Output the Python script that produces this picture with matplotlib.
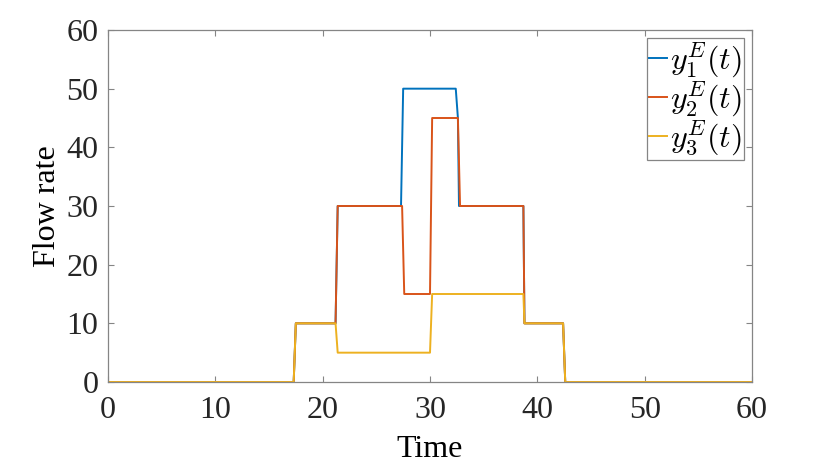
import matplotlib
matplotlib.use("Agg")
import matplotlib.pyplot as plt

# vertices of the three step-like flow profiles (time, flow rate)
t1 = [0, 17.3, 17.5, 21.2, 21.4, 27.3, 27.5, 32.4, 32.6, 32.7, 38.7, 38.8, 42.4, 42.6, 60]
y1 = [0, 0, 10, 10, 30, 30, 50, 50, 45, 30, 30, 10, 10, 0, 0]

t2 = [0, 17.3, 17.5, 21.2, 21.4, 27.4, 27.6, 30.0, 30.2, 32.6, 32.8, 38.7, 38.8, 42.4, 42.6, 60]
y2 = [0, 0, 10, 10, 30, 30, 15, 15, 45, 45, 30, 30, 10, 10, 0, 0]

t3 = [0, 17.3, 17.5, 21.2, 21.4, 30.0, 30.2, 38.7, 38.8, 42.4, 42.6, 60]
y3 = [0, 0, 10, 10, 5, 5, 15, 15, 10, 10, 0, 0]

labels = [r"$y_1^E(t)$", r"$y_2^E(t)$", r"$y_3^E(t)$"]
colors = ["#0072BD", "#D95319", "#EDB120"]

plt.rcParams["font.family"] = "Liberation Serif"
plt.rcParams["mathtext.fontset"] = "cm"

fig = plt.figure(figsize=(8.3, 4.68), dpi=100)
ax = fig.add_axes([108 / 830, 1 - 382 / 468, (752 - 108) / 830, (382 - 30) / 468])

ax.plot(t1, y1, color=colors[0], lw=1.4, label=labels[0])
ax.plot(t2, y2, color=colors[1], lw=1.4, label=labels[1])
ax.plot(t3, y3, color=colors[2], lw=1.4, label=labels[2])

ax.set_xlim(0, 60)
ax.set_ylim(0, 60)
ax.set_xticks(range(0, 61, 10))
ax.set_yticks(range(0, 61, 10))
ax.set_xlabel("Time", fontsize=23, labelpad=7)
ax.set_ylabel("Flow rate", fontsize=23, labelpad=3)

for s in ax.spines.values():
    s.set_color("#858585")
    s.set_linewidth(0.9)
ax.tick_params(direction="in", length=4, width=0.8, color="#858585",
               labelsize=23, labelcolor="#262626", top=True, right=True)
ax.tick_params(axis="x", pad=10)
ax.tick_params(axis="y", pad=7)

leg = ax.legend(loc="upper right", fontsize=23, handlelength=0.55, handletextpad=0.1,
                borderpad=0.08, labelspacing=0.0, fancybox=False, framealpha=1,
                borderaxespad=0.25)
leg.get_frame().set_edgecolor("#858585")
leg.get_frame().set_linewidth(0.9)

fig.savefig("out.png", dpi=100)
